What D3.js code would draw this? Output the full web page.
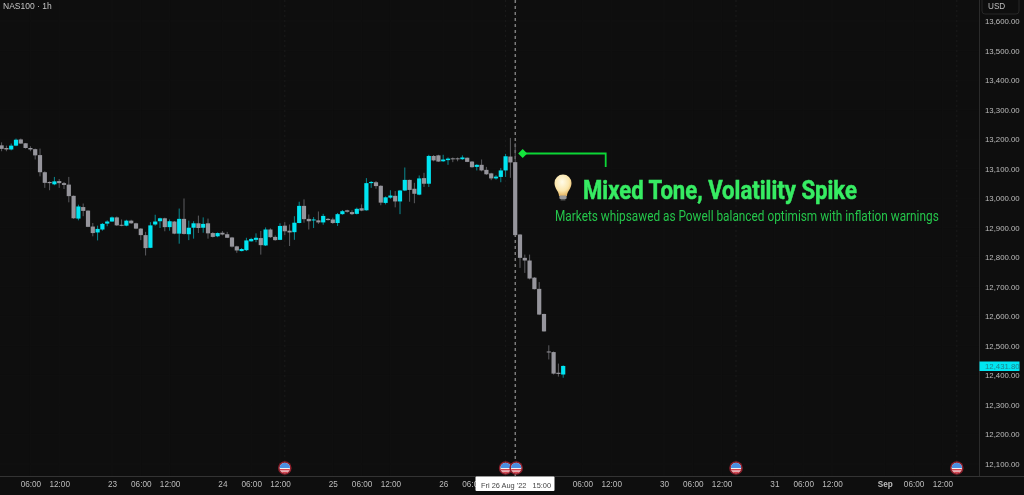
<!DOCTYPE html>
<html lang="en">
	<head>
		<meta charset="utf-8">
		<title>NAS100 1h</title>
		<script src="https://cdn.jsdelivr.net/npm/d3@7"></script>
		<style>
			html, body { margin: 0; padding: 0; background: #0e0e0e; overflow: hidden; }
			svg { display: block; filter: blur(0.3px); }
			text { font-family: "Liberation Sans", sans-serif; }
			.axis path, .axis line { display: none; }
			.y.axis text { font-size: 7.8px; fill: #bdbdbd; }
			.x.axis text { font-size: 8.2px; fill: #bdbdbd; }
		</style>
	</head>
	<body>
		<script>
			//candles, one per hour
			var opens = [13179,13170,13165,13178,13199,13186,13170,13166,13146,13088,13055,13047,13058,13051,13046,13008,12931,12970,12958,12904,12884,12894,12914,12921,12935,12910,12907,12924,12915,12897,12875,12832,12911,12922,12932,12902,12921,12880,12930,12878,12900,12915,12900,12915,12882,12871,12883,12878,12867,12837,12821,12824,12854,12859,12865,12840,12894,12869,12859,12907,12890,12885,12916,12974,12930,12925,12925,12918,12930,12928,12916,12946,12959,12953,12947,12966,12959,13051,13054,13042,12984,13002,13008,12989,13026,13062,13032,13012,13068,13049,13143,13145,13125,13129,13135,13135,13132,13137,13124,13106,13113,13096,13084,13067,13072,13094,13141,13122,12877,12798,12789,12731,12693,12608,12481,12479,12409,12403];
			var highs = [13189,13178,13185,13202,13202,13187,13176,13168,13168,13091,13057,13072,13065,13055,13072,13009,12978,12982,12959,12916,12907,12916,12925,12938,12938,12928,12927,12927,12917,12899,12886,12919,12944,12934,12934,12928,12923,12965,12999,12924,12922,12941,12935,12931,12885,12884,12889,12886,12869,12839,12831,12866,12866,12881,12889,12901,12898,12874,12915,12919,12911,12939,12988,12996,12945,12936,12955,12947,12933,12934,12950,12960,12961,12959,12968,12979,13068,13058,13058,13044,13006,13027,13024,13028,13104,13063,13052,13077,13086,13147,13146,13147,13147,13138,13138,13138,13145,13138,13126,13115,13131,13106,13086,13078,13102,13150,13204,13187,12879,12809,12809,12733,12716,12609,12502,12481,12440,12434];
			var lows = [13159,13159,13162,13176,13184,13168,13159,13131,13074,13035,13027,13044,13035,13031,12986,12930,12925,12939,12902,12871,12857,12890,12905,12920,12906,12905,12905,12913,12895,12858,12806,12831,12907,12899,12888,12890,12878,12846,12877,12858,12863,12882,12883,12863,12867,12868,12874,12865,12833,12815,12820,12821,12853,12851,12809,12838,12866,12856,12858,12875,12838,12859,12915,12917,12894,12899,12913,12910,12924,12913,12906,12944,12951,12943,12945,12956,12958,13035,13032,12976,12979,12998,12969,12946,13024,12988,12983,13010,13038,13038,13125,13123,13123,13113,13122,13125,13130,13122,13103,13094,13091,13079,13061,13063,13054,13072,13069,12874,12764,12747,12725,12691,12604,12548,12454,12403,12396,12392];
			var closes = [13167,13165,13178,13198,13185,13170,13165,13145,13088,13052,13051,13057,13051,13045,13007,12932,12972,12957,12903,12882,12896,12913,12921,12935,12908,12907,12924,12915,12897,12875,12831,12908,12921,12932,12902,12922,12880,12930,12879,12900,12915,12899,12913,12881,12869,12882,12877,12866,12836,12823,12828,12857,12862,12866,12841,12894,12868,12858,12906,12888,12884,12917,12974,12929,12922,12928,12918,12940,12926,12916,12946,12956,12954,12946,12964,12958,13051,13055,13041,12985,13003,13009,12989,13026,13062,13028,13015,13067,13049,13143,13128,13124,13131,13134,13133,13133,13138,13123,13105,13113,13094,13081,13067,13073,13094,13142,13121,12875,12798,12789,12728,12692,12606,12549,12478,12406,12405,12432];

			var priceTicks = [12100,12200,12300,12400,12500,12600,12700,12800,12900,13000,13100,13200,13300,13400,13500,13600];
			var timeTicks = [6,12,23,29,35,46,52,58,69,75,81,92,98,121,127,138,144,150,161,167,173,184,190,196];
			var timeLabels = ["06:00","12:00","23","06:00","12:00","24","06:00","12:00","25","06:00","12:00","26","06:00","06:00","12:00","30","06:00","12:00","31","06:00","12:00","Sep","06:00","12:00"];
			var eventBars = [59,105,107.2,153,199];
			var cursorBar = 107;
			var lastPrice = 12431.80;

			var w = 1024;
			var h = 495;
			var upColor = "#00e5f2";
			var downColor = "#96959c";

			var xScale = d3.scaleLinear().domain([0, 199]).range([1.6, 956.8]);
			var yScale = d3.scaleLinear().domain([12100, 13600]).range([464, 21]);

			var svg = d3.select("body")
				.append("svg")
				.attr("width", w)
				.attr("height", h);

			var defs = svg.append("defs");
			var bulbGrad = defs.append("radialGradient")
				.attr("id", "bulb")
				.attr("cx", "0.45").attr("cy", "0.35").attr("r", "0.7");
			bulbGrad.append("stop").attr("offset", "0").attr("stop-color", "#fffbe8");
			bulbGrad.append("stop").attr("offset", "0.6").attr("stop-color", "#fbe6ac");
			bulbGrad.append("stop").attr("offset", "1").attr("stop-color", "#e2a94e");

			//faint grid
			svg.append("g")
				.selectAll("line")
				.data(priceTicks)
				.enter()
				.append("line")
				.attr("x1", 0)
				.attr("x2", 979)
				.attr("y1", function(d) { return yScale(d); })
				.attr("y2", function(d) { return yScale(d); })
				.attr("stroke", "#101010");
			svg.append("g")
				.selectAll("line")
				.data(timeTicks)
				.enter()
				.append("line")
				.attr("y1", 0)
				.attr("y2", 476)
				.attr("x1", function(d) { return xScale(d); })
				.attr("x2", function(d) { return xScale(d); })
				.attr("stroke", "#101010");

			//event lines
			svg.append("g")
				.selectAll("line")
				.data(eventBars)
				.enter()
				.append("line")
				.attr("y1", 0)
				.attr("y2", 476)
				.attr("x1", function(d) { return xScale(d); })
				.attr("x2", function(d) { return xScale(d); })
				.attr("stroke", "#1b1b1b")
				.attr("stroke-dasharray", "2,3");

			//crosshair, under the candles
			svg.append("line")
				.attr("x1", xScale(cursorBar))
				.attr("x2", xScale(cursorBar))
				.attr("y1", 0)
				.attr("y2", 477)
				.attr("stroke", "#b0b0b0")
				.attr("stroke-dasharray", "3,3");

			//candles
			var candles = svg.append("g")
				.selectAll("g")
				.data(opens)
				.enter()
				.append("g");

			candles.append("line")
				.attr("x1", function(d, i) { return xScale(i); })
				.attr("x2", function(d, i) { return xScale(i); })
				.attr("y1", function(d, i) { return yScale(highs[i]); })
				.attr("y2", function(d, i) { return yScale(lows[i]); })
				.attr("stroke", function(d, i) { return closes[i] >= d ? "#0a8a92" : "#5c5c60"; })
				.attr("stroke-width", 1);

			candles.append("rect")
				.attr("x", function(d, i) { return xScale(i) - 2.1; })
				.attr("width", 4.2)
				.attr("y", function(d, i) { return yScale(Math.max(d, closes[i])); })
				.attr("height", function(d, i) { return Math.max(1, Math.abs(yScale(d) - yScale(closes[i]))); })
				.attr("fill", function(d, i) { return closes[i] >= d ? upColor : downColor; });

			//callout arrow
			svg.append("path")
				.attr("d", "M524,153.5H605.7V167")
				.attr("fill", "none")
				.attr("stroke", "#0cd636")
				.attr("stroke-width", 1.8);
			svg.append("path")
				.attr("d", "M522.7,149L527.2,153.5L522.7,158L518.2,153.5Z")
				.attr("fill", "#14e63c");

			//bulb
			var bulb = svg.append("g").attr("transform", "translate(563,185)");
			bulb.append("path")
				.attr("d", "M-4,11C-4,6 -8.5,4 -8.5,-2A8.5,8.5 0 0 1 8.5,-2C8.5,4 4,6 4,11Z")
				.attr("fill", "url(#bulb)");
			bulb.append("rect")
				.attr("x", -3.6).attr("y", 10.5).attr("width", 7.2).attr("height", 3.5)
				.attr("rx", 1).attr("fill", "#9a9a9a");
			bulb.append("rect")
				.attr("x", -2.4).attr("y", 14).attr("width", 4.8).attr("height", 1.5)
				.attr("fill", "#555");

			//squeeze a text sideways so it fills the given width
			function fitText(sel, x, y, width) {
				var natural = sel.node().getComputedTextLength();
				sel.attr("transform", "translate(" + x + "," + y + ") scale(" + (width / natural) + ",1)");
			}

			var title = svg.append("text")
				.style("font-family", "'Liberation Sans Narrow', 'Roboto', sans-serif")
				.style("font-weight", "bold")
				.style("font-size", "25px")
				.attr("fill", "#37ec63")
				.attr("stroke", "#37ec63")
				.attr("stroke-width", 0.5)
				.text("Mixed Tone, Volatility Spike");
			fitText(title, 583, 198.5, 274);

			var subtitle = svg.append("text")
				.style("font-family", "'Liberation Sans Narrow', 'Roboto', sans-serif")
				.style("font-size", "15px")
				.attr("fill", "#25c64b")
				.text("Markets whipsawed as Powell balanced optimism with inflation warnings");
			fitText(subtitle, 555, 220.5, 384);

			//price axis
			svg.append("line")
				.attr("x1", 979.5).attr("x2", 979.5)
				.attr("y1", 0).attr("y2", 477)
				.attr("stroke", "#2b2b2b");
			svg.append("line")
				.attr("x1", 0).attr("x2", 1024)
				.attr("y1", 476.5).attr("y2", 476.5)
				.attr("stroke", "#333333");

			var yAxis = d3.axisRight(yScale)
				.tickValues(priceTicks)
				.tickSize(0)
				.tickPadding(0)
				.tickFormat(d3.format(",.2f"));
			svg.append("g")
				.attr("class", "y axis")
				.attr("transform", "translate(985,0)")
				.call(yAxis);

			svg.append("rect")
				.attr("x", 982).attr("y", -6).attr("width", 37).attr("height", 20)
				.attr("rx", 3)
				.attr("fill", "none")
				.attr("stroke", "#262626");
			svg.append("text")
				.attr("x", 988)
				.attr("y", 9)
				.style("font-size", "8.2px")
				.attr("fill", "#bdbdbd")
				.text("USD");

			//last price tag
			svg.append("rect")
				.attr("x", 979.5)
				.attr("y", yScale(lastPrice) - 4.5)
				.attr("width", 40)
				.attr("height", 9.5)
				.attr("fill", upColor);
			svg.append("text")
				.attr("x", 985)
				.attr("y", yScale(lastPrice) + 3)
				.style("font-size", "7.8px")
				.attr("fill", "#1f7f88")
				.text(d3.format(",.2f")(lastPrice));

			//time axis
			var xAxis = d3.axisBottom(xScale)
				.tickValues(timeTicks)
				.tickSize(0)
				.tickPadding(0)
				.tickFormat(function(d, i) { return timeLabels[i]; });
			svg.append("g")
				.attr("class", "x axis")
				.attr("transform", "translate(0,481)")
				.call(xAxis)
				.selectAll("text")
				.style("font-weight", function(d, i) { return timeLabels[i] == "Sep" ? "bold" : "normal"; });

			//event flags
			var flags = svg.append("g")
				.selectAll("g")
				.data(eventBars)
				.enter()
				.append("g")
				.attr("transform", function(d) { return "translate(" + xScale(d) + ",468)"; });
			defs.append("clipPath").attr("id", "flag-clip")
				.append("circle").attr("r", 5.2);
			flags.append("circle").attr("r", 6.8).attr("fill", "#8c1f2b");
			flags.append("circle").attr("r", 5.2).attr("fill", "#f0f0f0");
			flags.append("rect")
				.attr("x", -5.2).attr("y", -5.2).attr("width", 10.4).attr("height", 5.2)
				.attr("clip-path", "url(#flag-clip)")
				.attr("fill", "#4a8fe0");
			flags.append("rect")
				.attr("x", -5.2).attr("y", 1).attr("width", 10.4).attr("height", 1.5)
				.attr("clip-path", "url(#flag-clip)")
				.attr("fill", "#d9434e");
			flags.append("rect")
				.attr("x", -5.2).attr("y", 3.6).attr("width", 10.4).attr("height", 1.5)
				.attr("clip-path", "url(#flag-clip)")
				.attr("fill", "#d9434e");

			//crosshair date label
			svg.append("rect")
				.attr("x", 475.5)
				.attr("y", 476.5)
				.attr("width", 79)
				.attr("height", 14.5)
				.attr("rx", 1)
				.attr("fill", "#ffffff");
			svg.append("text")
				.attr("x", 481)
				.attr("y", 487.5)
				.style("font-size", "7.4px")
				.attr("fill", "#444444")
				.style("white-space", "pre")
				.text("Fri 26 Aug '22   15:00");

			//header
			svg.append("text")
				.attr("x", 3)
				.attr("y", 8.5)
				.style("font-size", "8.5px")
				.attr("fill", "#c4c4c4")
				.text("NAS100 \u00b7 1h");
		</script>
	</body>
</html>
